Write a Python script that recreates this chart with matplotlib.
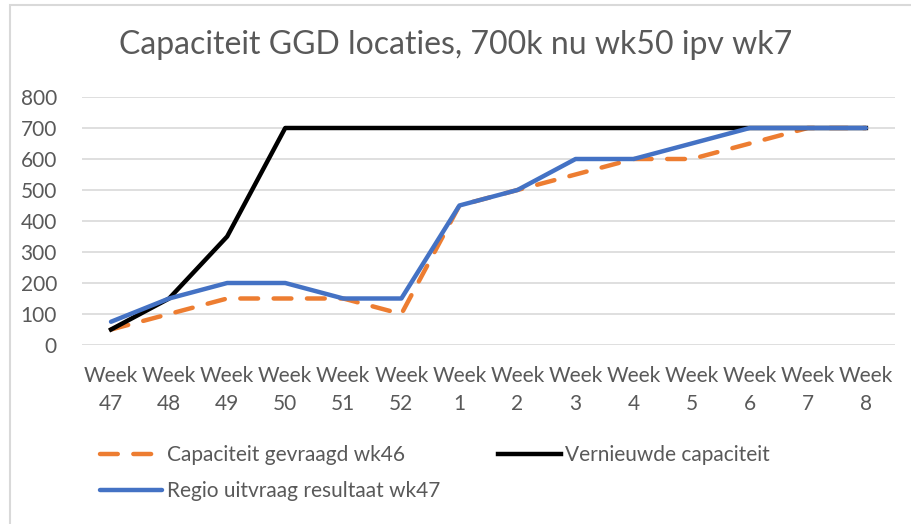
import matplotlib.pyplot as plt
import numpy as np

# Data
weeks = ['47', '48', '49', '50', '51', '52', '1', '2', '3', '4', '5', '6', '7', '8']
gevraagd_wk46 = [50, 100, 150, 150, 150, 100, 450, 500, 550, 600, 600, 650, 700, 700]
vernieuwd = [50, 150, 350, 700, 700, 700, 700, 700, 700, 700, 700, 700, 700, 700]
regio_wk47 = [75, 150, 200, 200, 150, 150, 450, 500, 600, 600, 650, 700, 700, 700]

plt.rcParams['font.family'] = ['Lato', 'DejaVu Sans']
text_col = '#595959'

fig = plt.figure(figsize=(9.12, 5.24), dpi=100)
ax = fig.add_axes([0.0899, 0.3416, 0.8914, 0.4733])

x = np.arange(len(weeks))
l1, = ax.plot(x, gevraagd_wk46, color='#ED7D31', lw=3.2, dashes=(4, 3.5),
              dash_capstyle='round', label='Capaciteit gevraagd wk46')
l2, = ax.plot(x, vernieuwd, color='black', lw=3.2, label='Vernieuwde capaciteit')
l3, = ax.plot(x, regio_wk47, color='#4472C4', lw=3.2, solid_capstyle='round',
              label='Regio uitvraag resultaat wk47')

ax.set_xlim(-0.5, len(weeks) - 0.5)
ax.set_ylim(0, 800)
ax.set_yticks(range(0, 801, 100))
ax.set_xticks(x)
ax.set_xticklabels(['Week\n' + w for w in weeks], linespacing=1.5)
ax.tick_params(length=0, labelsize=15, colors=text_col)
ax.tick_params(axis='x', pad=15)
ax.tick_params(axis='y', pad=18)
ax.grid(axis='y', color='#D9D9D9', lw=1.2)
ax.set_axisbelow(True)
for s in ax.spines.values():
    s.set_visible(False)

fig.text(0.5, 0.915, 'Capaciteit GGD locaties, 700k nu wk50 ipv wk7',
         ha='center', va='center', fontsize=23, color=text_col)

fig.legend([l1, l3, l2], [l1.get_label(), l3.get_label(), l2.get_label()],
           loc='upper left', bbox_to_anchor=(0.1096, 0.150), ncol=2, frameon=False,
           borderpad=0, borderaxespad=0,
           fontsize=15, labelcolor=text_col, handlelength=3.0, handletextpad=0.2,
           columnspacing=2.8, labelspacing=0.75)

# outer chart border
fig.add_artist(plt.Rectangle((0.011, -0.02), 1.0, 1.0105, transform=fig.transFigure,
                             fill=False, edgecolor='#D9D9D9', lw=1.5))

fig.savefig('out.png', dpi=100)
